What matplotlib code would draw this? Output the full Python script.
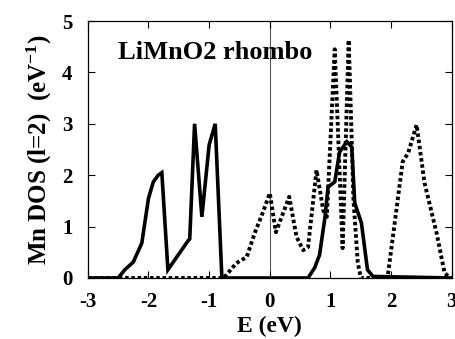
import numpy as np
import matplotlib.pyplot as plt

plt.rcParams['font.family'] = ['Liberation Serif', 'DejaVu Serif']
plt.rcParams['font.weight'] = 'bold'
plt.rcParams['mathtext.default'] = 'regular'
plt.rcParams['axes.unicode_minus'] = False

# solid curve
e_solid = [-3.0, -2.5, -2.39, -2.25, -2.11, -2.0, -1.92, -1.84, -1.78, -1.68,
           -1.35, -1.32, -1.24, -1.12, -1.0, -0.9, -0.79, 0.0, 0.63, 0.74,
           0.82, 0.91, 0.96, 1.07, 1.15, 1.27, 1.35, 1.40, 1.51, 1.61, 1.70, 3.0]
dos_solid = [0.0, 0.0, 0.16, 0.31, 0.68, 1.55, 1.87, 2.0, 2.05, 0.16,
             0.72, 0.76, 3.0, 1.19, 2.59, 3.0, 0.0, 0.0, 0.0, 0.2,
             0.45, 1.19, 1.77, 1.87, 2.45, 2.65, 2.55, 1.46, 1.07, 0.16, 0.03, 0.0]

# dotted curve
e_dot = [-3.0, -0.76, -0.55, -0.38, -0.25, -0.12, 0.0, 0.10, 0.32, 0.44,
         0.55, 0.63, 0.77, 0.88, 0.94, 1.07, 1.20, 1.30, 1.38, 1.45, 1.50,
         1.94, 2.19, 2.28, 2.42, 2.55, 2.75, 2.88, 2.97, 3.0]
dos_dot = [0.0, 0.0, 0.29, 0.41, 0.87, 1.26, 1.65, 0.89, 1.58, 0.8,
           0.54, 0.6, 2.1, 1.32, 1.19, 4.45, 0.58, 4.63, 1.5, 0.3, 0.0,
           0.0, 2.26, 2.43, 2.98, 1.85, 0.87, 0.1, 0.0, 0.0]

fig = plt.figure(figsize=(4.55, 3.39), dpi=100)
ax = fig.add_axes([0.193, 0.180, 0.800, 0.758])

ax.axvline(0, color='0.35', lw=0.8, zorder=1)
ax.plot(e_solid, dos_solid, color='black', lw=2.6, solid_joinstyle='miter', zorder=3)
ax.plot(e_dot, dos_dot, color='black', lw=2.8, linestyle=(0, (0.9, 0.7)), zorder=2)

ax.set_xlim(-3, 3)
ax.set_ylim(0, 5)
ax.set_xticks([-3, -2, -1, 0, 1, 2, 3])
ax.set_yticks([0, 1, 2, 3, 4, 5])
ax.tick_params(direction='in', top=True, right=True, length=5, width=0.8,
               labelsize=15)
ax.tick_params(axis='x', pad=10)
ax.tick_params(axis='y', pad=11)
for s in ax.spines.values():
    s.set_linewidth(0.9)

ax.set_xlabel('E (eV)', fontsize=17, fontweight='bold', labelpad=3)
ax.set_ylabel('Mn DOS (l=2)  (eV$^{-1}$)', fontsize=18, fontweight='bold', labelpad=6)
ax.text(-2.5, 4.38, 'LiMnO2 rhombo', fontsize=19, fontweight='bold', va='center', ha='left')

fig.savefig('out.png', dpi=100)
